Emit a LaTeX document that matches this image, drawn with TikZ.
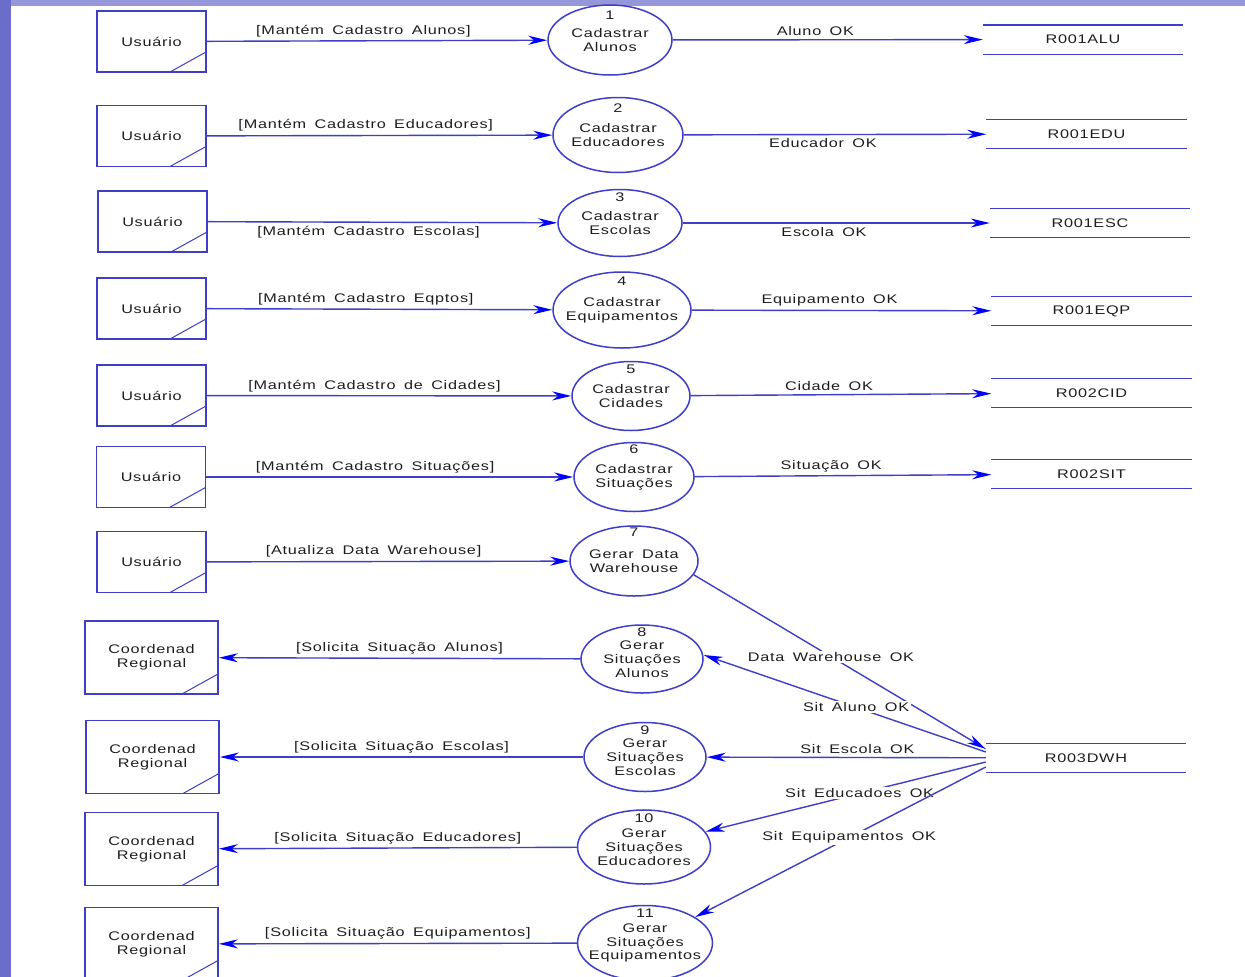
\documentclass[tikz,border=0pt]{standalone}
\usepackage{fontspec}
\setmainfont{Liberation Sans}[FakeStretch=1.3, LetterSpace=6, WordSpace=1.6]
\usetikzlibrary{shapes.geometric,arrows.meta}
\definecolor{dfdblue}{RGB}{62,62,200}
\definecolor{sideblue}{RGB}{108,108,202}
\definecolor{topblue}{RGB}{150,150,218}
\definecolor{txtgray}{RGB}{30,30,30}

\begin{document}
\begin{tikzpicture}[x=1pt, y=-1pt, font=\fontsize{12.5}{13.8}\selectfont, text=txtgray,
	entity/.style={draw=dfdblue, line width=1.7pt, minimum width=109pt, minimum height=61pt, align=center,
		path picture={\draw[dfdblue, line width=1pt] ([xshift=-36pt]path picture bounding box.south east) -- ([yshift=20pt]path picture bounding box.south east);}},
	regional/.style={entity, minimum width=133pt, minimum height=73pt},
	process/.style={ellipse, draw=dfdblue, line width=1.5pt, minimum width=124pt, minimum height=70pt, inner sep=0pt},
	store/.style={minimum width=200pt, minimum height=29pt, inner sep=0pt},
	flow/.style={draw=dfdblue, line width=1.4pt, -{Stealth[length=19pt, width=9pt, inset=6pt, color=blue]}},
	lblw/.style={fill=white, inner sep=1.5pt}]
		\useasboundingbox (0,0) rectangle (1245,977);
		\fill[topblue] (0,0) rectangle (1245,977);
		\fill[sideblue] (0,0) rectangle (11,977);
		\fill[white] (11,6) rectangle (1245,977);

		\node[entity] (u1) at (151.5,41.5) {Usuário};
		\node[entity] (u2) at (151.5,136) {Usuário};
		\node[entity] (u3) at (152.5,221.5) {Usuário};
		\node[entity] (u4) at (151.5,308.5) {Usuário};
		\node[entity] (u5) at (151.5,395.5) {Usuário};
		\node[entity] (u6) at (151,477) {Usuário};
		\node[entity] (u7) at (151.5,562) {Usuário};
		\node[regional] (c8) at (151.5,657.5) {Coordenad\\Regional};
		\node[regional] (c9) at (152.5,757) {Coordenad\\Regional};
		\node[regional] (c10) at (151.5,849) {Coordenad\\Regional};
		\node[regional] (c11) at (151.5,944) {Coordenad\\Regional};

		\node[process, label={[label distance=-19pt]north:1}, label={[align=center]center:Cadastrar\\Alunos}] (p1) at (610,40) {};
		\node[process, minimum width=130pt, minimum height=75pt, label={[label distance=-19pt]north:2}, label={[align=center]center:Cadastrar\\Educadores}] (p2) at (618,135) {};
		\node[process, minimum height=67pt, label={[label distance=-16pt]north:3}, label={[align=center]center:Cadastrar\\Escolas}] (p3) at (620,223) {};
		\node[process, minimum width=138pt, minimum height=76pt, label={[label distance=-18pt]north:4}, label={[align=center]center:Cadastrar\\Equipamentos}] (p4) at (622,310) {};
		\node[process, minimum width=118pt, minimum height=69pt, label={[label distance=-16pt]north:5}, label={[align=center]center:Cadastrar\\Cidades}] (p5) at (631,396) {};
		\node[process, minimum width=120pt, minimum height=69pt, label={[label distance=-15pt]north:6}, label={[align=center]center:Cadastrar\\Situações}] (p6) at (634,477) {};
		\node[process, minimum width=128pt, label={[label distance=-15pt]north:7}, label={[align=center]center:Gerar Data\\Warehouse}] (p7) at (634,561) {};
		\node[process, minimum width=122pt, minimum height=68pt, label={[label distance=-16pt]north:8}, label={[align=center]center:Gerar\\Situações\\Alunos}] (p8) at (642,659) {};
		\node[process, minimum width=122pt, minimum height=69pt, label={[label distance=-16pt]north:9}, label={[align=center]center:Gerar\\Situações\\Escolas}] (p9) at (645,757) {};
		\node[process, minimum width=133pt, minimum height=74pt, label={[label distance=-17pt]north:10}, label={[align=center]center:Gerar\\Situações\\Educadores}] (p10) at (644,847) {};
		\node[process, minimum width=135pt, minimum height=75pt, label={[label distance=-16pt]north:11}, label={[align=center]center:Gerar\\Situações\\Equipamentos}] (p11) at (645,943) {};

		\node[store] (s1) at (1083,39.5) {R001ALU};
		\node[store] (s2) at (1086.5,134) {R001EDU};
		\node[store] (s3) at (1090,223) {R001ESC};
		\node[store] (s4) at (1091.5,311) {R001EQP};
		\node[store] (s5) at (1091.5,393) {R002CID};
		\node[store] (s6) at (1091.5,474) {R002SIT};
		\node[store] (s7) at (1086,758) {R003DWH};
		\foreach \s in {s1,s2,s3,s4,s5,s6,s7}
			\draw[dfdblue, line width=1.4pt] (\s.north west) -- (\s.north east) (\s.south west) -- (\s.south east);

		\draw[flow] (u1) -- node[above, pos=0.46] {[Mantém Cadastro Alunos]} (p1);
		\draw[flow] (u2) -- node[above, pos=0.46] {[Mantém Cadastro Educadores]} (p2);
		\draw[flow] (u3) -- node[below, pos=0.46] {[Mantém Cadastro Escolas]} (p3);
		\draw[flow] (u4) -- node[above, pos=0.46] {[Mantém Cadastro Eqptos]} (p4);
		\draw[flow] (u5) -- node[above, pos=0.46] {[Mantém Cadastro de Cidades]} (p5);
		\draw[flow] (u6) -- node[above, pos=0.46] {[Mantém Cadastro Situações]} (p6);
		\draw[flow] (u7) -- node[above, pos=0.46] {[Atualiza Data Warehouse]} (p7);

		\draw[flow] (p1) -- node[above, pos=0.46] {Aluno OK} (s1);
		\draw[flow] (p2) -- node[below, pos=0.46] {Educador OK} (s2);
		\draw[flow] (p3) -- node[below, pos=0.46] {Escola OK} (s3);
		\draw[flow] (p4) -- node[above, pos=0.46] {Equipamento OK} (s4);
		\draw[flow] (p5) -- node[above, pos=0.46] {Cidade OK} (s5);
		\draw[flow] (p6) -- node[above, pos=0.46] {Situação OK} (s6);

		\draw[flow] (p7.-13) -- node[lblw, pos=0.47] {Data Warehouse OK} ([yshift=9pt]s7.west);
		\draw[flow] ([yshift=6pt]s7.west) -- node[lblw, pos=0.46] {Sit Aluno OK} ([yshift=4pt]p8.east);
		\draw[flow] (s7) -- node[above, pos=0.46] {Sit Escola OK} (p9);
		\draw[flow] ([yshift=-4pt]s7.west) -- node[lblw, pos=0.45] {Sit Educadoes OK} (p10);
		\draw[flow] ([yshift=-9pt]s7.west) -- node[lblw, pos=0.47] {Sit Equipamentos OK} (p11);

		\draw[flow] (p8) -- node[above] {[Solicita Situação Alunos]} (c8);
		\draw[flow] (p9) -- node[above] {[Solicita Situação Escolas]} (c9);
		\draw[flow] (p10) -- node[above] {[Solicita Situação Educadores]} (c10);
		\draw[flow] (p11) -- node[above] {[Solicita Situação Equipamentos]} (c11);
	\end{tikzpicture}
\end{document}
